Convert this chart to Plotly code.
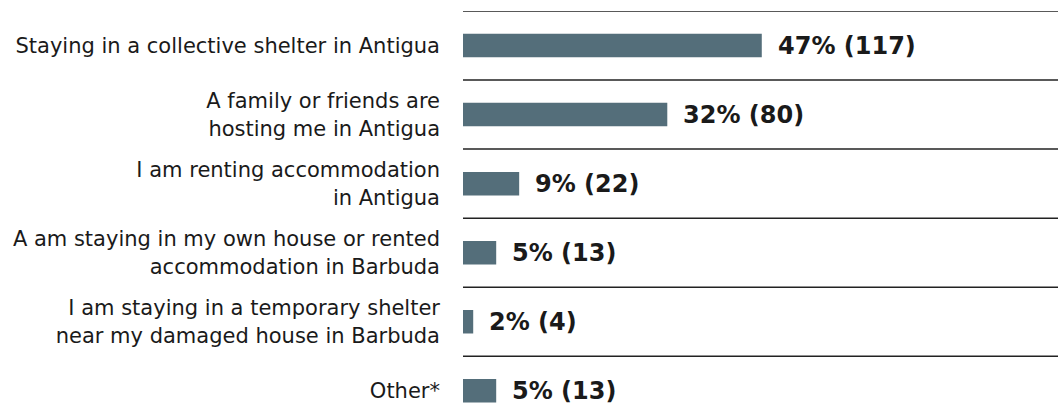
import plotly.graph_objects as go

categories = [
    "Staying in a collective shelter in Antigua",
    "A family or friends are<br>hosting me in Antigua",
    "I am renting accommodation<br>in Antigua",
    "A am staying in my own house or rented<br>accommodation in Barbuda",
    "I am staying in a temporary shelter<br>near my damaged house in Barbuda",
    "Other*",
]
counts = [117, 80, 22, 13, 4, 13]
percents = [47, 32, 9, 5, 2, 5]
labels = [f"{p}% ({c})" for p, c in zip(percents, counts)]

BAR_COLOR = "#546e7a"
TEXT_COLOR = "#1a1a1a"

fig = go.Figure()
fig.add_trace(
    go.Bar(
        x=counts,
        y=list(range(len(categories))),
        orientation="h",
        marker=dict(color=BAR_COLOR, line=dict(width=0)),
        width=0.34,
        hoverinfo="skip",
    )
)

# value labels to the right of each bar
for i, (c, lab) in enumerate(zip(counts, labels)):
    fig.add_annotation(
        x=c, y=i, text=lab, showarrow=False, xanchor="left", xshift=14,
        font=dict(family="DejaVu Sans", size=24, color=TEXT_COLOR, weight="bold"),
    )

# row separators above each row
for i in range(len(categories)):
    fig.add_shape(
        type="line", xref="x domain", x0=0, x1=1, y0=i - 0.5, y1=i - 0.5,
        line=dict(color="#222222", width=1.5),
    )

fig.update_layout(
    width=1058,
    height=406,
    margin=dict(l=463, r=0, t=11, b=0),
    plot_bgcolor="white",
    paper_bgcolor="white",
    showlegend=False,
    font=dict(family="DejaVu Sans", color=TEXT_COLOR),
)
fig.update_xaxes(range=[0, 233], visible=False)
fig.update_yaxes(
    tickmode="array",
    tickvals=list(range(len(categories))),
    ticktext=categories,
    range=[5.22, -0.5],
    showgrid=False,
    zeroline=False,
    showline=False,
    ticks="",
    ticklabelstandoff=22,
    tickfont=dict(family="DejaVu Sans", size=21, color=TEXT_COLOR),
)

fig.write_html(
    "out.html",
    config={"displayModeBar": False},
    post_script="document.body.style.margin='0';",
)
